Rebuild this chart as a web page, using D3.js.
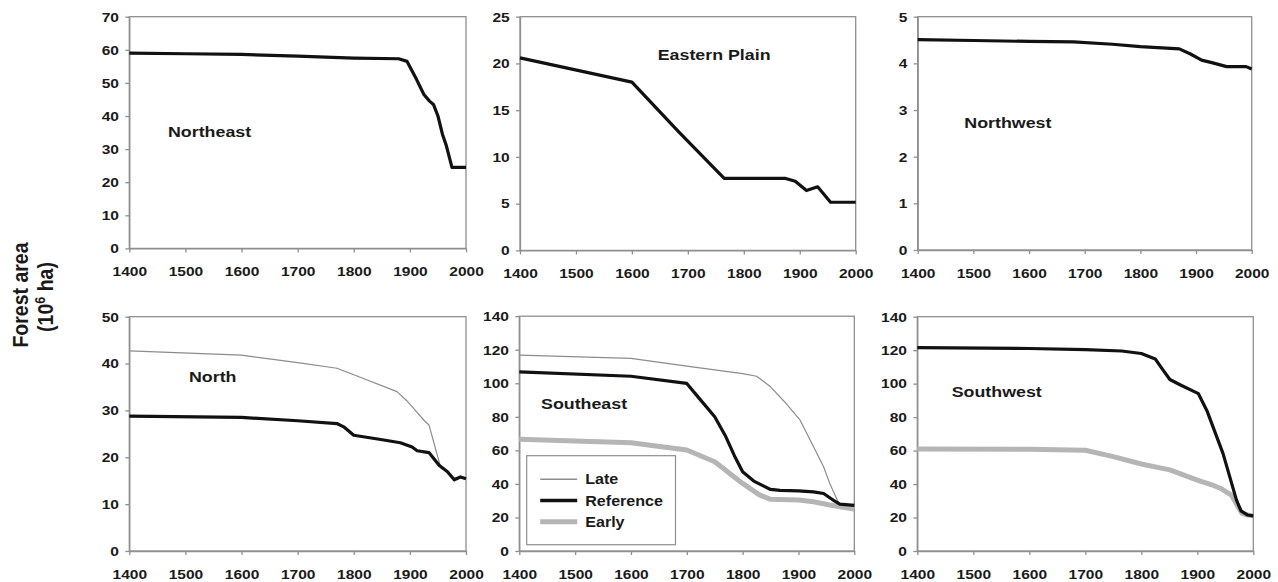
<!DOCTYPE html>
<html>
<head>
<meta charset="utf-8">
<script src="https://cdn.jsdelivr.net/npm/d3@7"></script>
<style>
  html, body { margin: 0; padding: 0; background: #fff; }
  svg { display: block; }
</style>
</head>
<body>
<svg id="chart" width="1278" height="582"></svg>
<script>
// x axis ticks shared by every panel
const xTicks = [1400, 1500, 1600, 1700, 1800, 1900, 2000];

// northeast
const neTicks = [0, 10, 20, 30, 40, 50, 60, 70];
const neRefYears  = [1400, 1500, 1600, 1700, 1800, 1880, 1895, 1912, 1925, 1935, 1942, 1950, 1958, 1965, 1975, 2000];
const neRefValues = [59, 58.8, 58.6, 58.1, 57.5, 57.3, 56.5, 51, 46.5, 44.5, 43.5, 40, 34.5, 31, 24.5, 24.5];

// eastern plain
const epTicks = [0, 5, 10, 15, 20, 25];
const epRefYears  = [1400, 1600, 1685, 1765, 1875, 1892, 1912, 1932, 1955, 2000];
const epRefValues = [20.6, 18.0, 12.6, 7.7, 7.7, 7.4, 6.4, 6.8, 5.15, 5.15];

// northwest
const nwTicks = [0, 1, 2, 3, 4, 5];
const nwRefYears  = [1400, 1500, 1600, 1680, 1750, 1800, 1870, 1890, 1910, 1930, 1955, 1990, 2000];
const nwRefValues = [4.51, 4.49, 4.47, 4.46, 4.41, 4.36, 4.31, 4.2, 4.07, 4.01, 3.93, 3.93, 3.88];

// north
const nTicks = [0, 10, 20, 30, 40, 50];
const nLateYears  = [1400, 1600, 1700, 1770, 1800, 1877, 1895, 1907, 1925, 1934, 1955, 1967, 1979, 1990, 2000];
const nLateValues = [42.7, 41.8, 40.2, 39, 37.6, 34, 32, 30.4, 27.9, 26.9, 17.8, 16.9, 15.5, 15.8, 15.6];
const nRefYears   = [1400, 1600, 1700, 1770, 1782, 1800, 1848, 1883, 1904, 1913, 1934, 1952, 1967, 1979, 1990, 2000];
const nRefValues  = [28.8, 28.5, 27.8, 27.2, 26.5, 24.7, 23.8, 23.1, 22.2, 21.4, 21.0, 18.3, 16.9, 15.2, 15.8, 15.4];

// southeast
const seTicks = [0, 20, 40, 60, 80, 100, 120, 140];
const seLateYears   = [1400, 1600, 1700, 1800, 1825, 1850, 1875, 1903, 1927, 1945, 1956, 1971, 1976, 2000];
const seLateValues  = [116.8, 114.8, 110.2, 105.8, 104.2, 97.9, 89, 78, 62.1, 50.2, 40.3, 29.4, 27.5, 27];
const seRefYears    = [1400, 1600, 1700, 1720, 1750, 1770, 1785, 1800, 1820, 1850, 1867, 1900, 1927, 1945, 1962, 1974, 2000];
const seRefValues   = [106.8, 104.2, 99.9, 91.9, 80, 68.1, 57, 47.3, 41.7, 36.7, 36.2, 35.9, 35.3, 34.3, 30.4, 28.0, 27.2];
const seEarlyYears  = [1400, 1600, 1700, 1750, 1800, 1830, 1850, 1900, 1927, 1956, 1980, 2000];
const seEarlyValues = [66.7, 64.5, 60.2, 53.2, 40.3, 33.5, 30.8, 30.4, 29.4, 27.4, 26, 25];

// southwest
const swTicks = [0, 20, 40, 60, 80, 100, 120, 140];
const swRefYears    = [1400, 1600, 1700, 1765, 1800, 1825, 1837, 1851, 1870, 1902, 1917, 1946, 1970, 1978, 1990, 2000];
const swRefValues   = [121.5, 121, 120.3, 119.5, 118, 114.7, 109, 102.5, 99.2, 94, 84, 58.2, 30.4, 24, 21.5, 21];
const swEarlyYears  = [1400, 1600, 1700, 1750, 1800, 1851, 1900, 1930, 1941, 1961, 1970, 1980, 1990, 2000];
const swEarlyValues = [61, 60.8, 60.2, 56.4, 52, 48.5, 42.4, 39, 37.5, 33.4, 28, 22.5, 21.5, 21];

// legend entries
const legendNames = ["Late", "Reference", "Early"];

// line styles per scenario
const styles = {
  Late:      { stroke: "#8c8c8c", width: 1.2, legendWidth: 1.4 },
  Reference: { stroke: "#111",    width: 3.2, legendWidth: 3.6 },
  Early:     { stroke: "#b5b5b5", width: 5,   legendWidth: 5 }
};

const axisGray = "#8f8f8f";
const textCol  = "#1a1a1a";
const font     = "'Liberation Sans', Arial, Helvetica, sans-serif";
const stretch  = "scale(1.15,1)";

const panels = [
  { name: "Northeast",     box: [129.3, 16.7, 466, 248.4],   ticks: neTicks, label: [38.7, 119.8],
    series: [{ kind: "Reference", years: neRefYears, values: neRefValues }] },
  { name: "Eastern Plain", box: [520, 16.7, 855.7, 250.4],   ticks: epTicks, label: [137.7, 42.8],
    series: [{ kind: "Reference", years: epRefYears, values: epRefValues }] },
  { name: "Northwest",     box: [917.7, 16.7, 1251.7, 250],  ticks: nwTicks, label: [46.6, 111.3],
    series: [{ kind: "Reference", years: nwRefYears, values: nwRefValues }] },
  { name: "North",         box: [129.3, 316.7, 466, 551],    ticks: nTicks,  label: [59.7, 65.3],
    series: [{ kind: "Late", years: nLateYears, values: nLateValues },
             { kind: "Reference", years: nRefYears, values: nRefValues }] },
  { name: "Southeast",     box: [519.3, 316.2, 854.3, 551],  ticks: seTicks, label: [21.7, 92.5], legend: true,
    series: [{ kind: "Early", years: seEarlyYears, values: seEarlyValues },
             { kind: "Late", years: seLateYears, values: seLateValues },
             { kind: "Reference", years: seRefYears, values: seRefValues }] },
  { name: "Southwest",     box: [917.3, 316.7, 1253.3, 551], ticks: swTicks, label: [34.4, 80.3],
    series: [{ kind: "Early", years: swEarlyYears, values: swEarlyValues },
             { kind: "Reference", years: swRefYears, values: swRefValues }] }
];

const svg = d3.select("#chart");
svg.append("rect").attr("width", 1278).attr("height", 582).attr("fill", "#fff");

function styleAxis(sel) {
  sel.attr("font-family", font).attr("font-size", 13.5).attr("font-weight", "bold");
  sel.select(".domain").attr("stroke", axisGray).attr("stroke-width", 1.3);
  sel.selectAll(".tick line").attr("stroke", axisGray).attr("stroke-width", 1.3);
  sel.selectAll(".tick text").attr("fill", textCol).attr("transform", stretch);
}

panels.forEach(p => {
  const [x0, y0, x1, y1] = p.box;
  const x = d3.scaleLinear().domain([1400, 2000]).range([x0, x1]);
  const y = d3.scaleLinear().domain([0, d3.max(p.ticks)]).range([y1, y0]);
  const g = svg.append("g");

  // frame
  g.append("rect")
    .attr("x", x0).attr("y", y0)
    .attr("width", x1 - x0).attr("height", y1 - y0)
    .attr("fill", "none")
    .attr("stroke", axisGray)
    .attr("stroke-width", 1.3);

  g.append("g")
    .attr("transform", `translate(0,${y1})`)
    .call(d3.axisBottom(x).tickValues(xTicks).tickFormat(d3.format("d"))
      .tickSize(4).tickSizeOuter(0).tickPadding(14))
    .call(styleAxis);

  g.append("g")
    .attr("transform", `translate(${x0},0)`)
    .call(d3.axisLeft(y).tickValues(p.ticks).tickFormat(d3.format("d"))
      .tickSize(4).tickSizeOuter(0).tickPadding(5))
    .call(styleAxis);

  const line = d3.line().x(d => x(d[0])).y(d => y(d[1]));

  p.series.forEach(s => {
    g.append("path")
      .datum(d3.zip(s.years, s.values))
      .attr("d", line)
      .attr("fill", "none")
      .attr("stroke", styles[s.kind].stroke)
      .attr("stroke-width", styles[s.kind].width)
      .attr("stroke-linejoin", "round")
      .attr("stroke-linecap", "butt");
  });

  // region name
  g.append("text")
    .attr("transform", `translate(${x0 + p.label[0]},${y0 + p.label[1]}) ${stretch}`)
    .attr("font-family", font)
    .attr("font-size", 15.5)
    .attr("font-weight", "bold")
    .attr("fill", textCol)
    .text(p.name);

  if (p.legend) {
    const lg = g.append("g").attr("transform", `translate(${x0 + 7.4},${y0 + 139.5})`);
    lg.append("rect")
      .attr("width", 148.8).attr("height", 89)
      .attr("fill", "#fff")
      .attr("stroke", axisGray)
      .attr("stroke-width", 1.2);
    legendNames.forEach((n, i) => {
      const ry = 23.5 + i * 21.3;
      lg.append("line")
        .attr("x1", 13.5).attr("x2", 50.5)
        .attr("y1", ry).attr("y2", ry)
        .attr("stroke", styles[n].stroke)
        .attr("stroke-width", styles[n].legendWidth);
      lg.append("text")
        .attr("transform", `translate(58.5,${ry + 5}) ${stretch}`)
        .attr("font-family", font)
        .attr("font-size", 14)
        .attr("font-weight", "bold")
        .attr("fill", textCol)
        .text(n);
    });
  }
});

// shared y title
const title = svg.append("g")
  .attr("font-family", font)
  .attr("font-weight", "bold")
  .attr("font-size", 19.5)
  .attr("fill", textCol)
  .attr("text-anchor", "middle");

title.append("text")
  .attr("transform", "translate(28,295) rotate(-90) scale(1,1.1)")
  .text("Forest area");

const t2 = title.append("text")
  .attr("transform", "translate(53,297) rotate(-90) scale(1,1.1)");
t2.append("tspan").text("(10");
t2.append("tspan").attr("font-size", 12.5).attr("dy", -7.5).text("6");
t2.append("tspan").attr("dy", 7.5).text(" ha)");
</script>
</body>
</html>
